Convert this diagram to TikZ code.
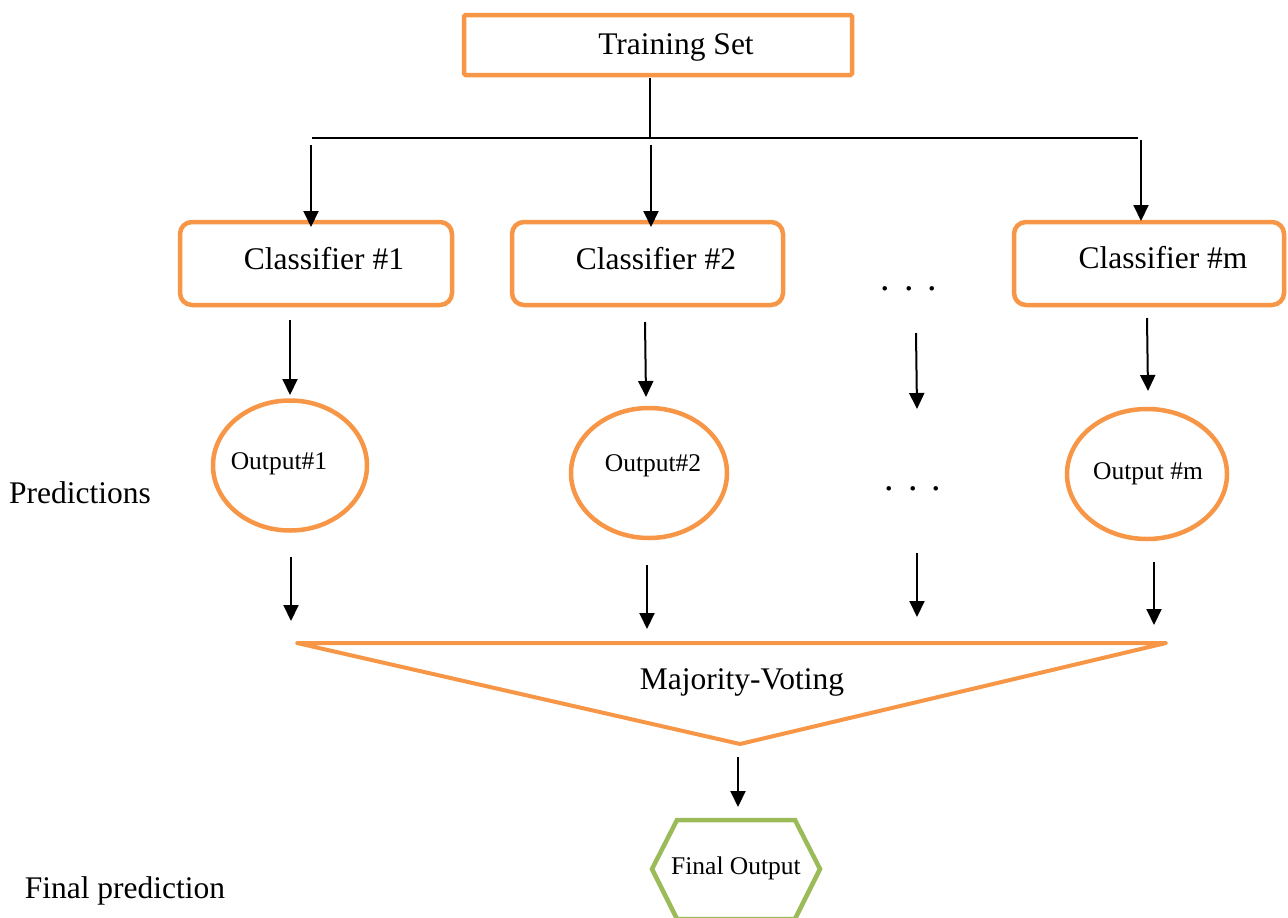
\documentclass[tikz,border=0pt]{standalone}
\usepackage{fontspec}
\setmainfont{Liberation Serif}
\usetikzlibrary{shapes.geometric,arrows.meta}
\definecolor{orng}{HTML}{F79646}
\definecolor{grn}{HTML}{9BBB59}
\tikzset{
  obox/.style={draw=orng,line width=4.5pt,minimum width=#1,minimum height=83pt,rounded corners=12pt,inner sep=0pt},
  tbox/.style={draw=orng,line width=4.5pt,minimum width=388pt,minimum height=60pt,rounded corners=1.5pt,inner sep=0pt},
  oell/.style={draw=orng,line width=4.5pt,ellipse,minimum width=#1,minimum height=130pt,inner sep=0pt},
  arr/.style={line width=2pt,-{Triangle[width=15pt,length=16pt]}},
  ln/.style={line width=1.6pt},
  big/.style={font=\fontsize{31.5}{36}\selectfont},
  mid/.style={font=\fontsize{25.5}{30}\selectfont},
  dots/.style={font=\fontsize{38}{40}\selectfont},
}
\newcommand{\mydots}{.\hspace{14pt}.\hspace{14pt}.}
\begin{document}
\begin{tikzpicture}[x=1pt,y=-1pt]
\useasboundingbox (0,0) rectangle (1288,918);
% training set
\node[tbox] (ts) at (658,45) {};
\node[big] (tst) at (676,47) {Training Set};
% branch lines
\coordinate (b0) at (650,78);
\coordinate (bj) at (650,138);
\coordinate (bl) at (312,138);
\coordinate (br) at (1138,138);
\draw[ln] (b0) -- (bj);
\draw[ln] (bl) -- (br);
% classifiers
\node[obox=272pt] (c1) at (316,263.5) {};
\node[big] (c1t) at (324,259) {Classifier \#1};
\node[obox=271pt] (c2) at (647.5,263.5) {};
\node[big] (c2t) at (656,259) {Classifier \#2};
\node[obox=270pt] (cm) at (1149,263.5) {};
\node[big] (cmt) at (1163,258) {Classifier \#m};
\node[dots] (d1) at (909,289) {\mydots};
% arrows to classifiers
\coordinate (a1s) at (311,145); \coordinate (a1e) at (311,227);
\coordinate (a2s) at (651,145); \coordinate (a2e) at (651,227);
\coordinate (a3s) at (1141,140); \coordinate (a3e) at (1141,221);
\draw[arr] (a1s) -- (a1e);
\draw[arr] (a2s) -- (a2e);
\draw[arr] (a3s) -- (a3e);
% arrows to outputs
\coordinate (o1s) at (290,320); \coordinate (o1e) at (290,395);
\coordinate (o2s) at (645,322); \coordinate (o2e) at (646,397);
\coordinate (ods) at (916,333); \coordinate (ode) at (917,409);
\coordinate (oms) at (1147,318); \coordinate (ome) at (1148,391);
\draw[arr] (o1s) -- (o1e);
\draw[arr] (o2s) -- (o2e);
\draw[arr] (ods) -- (ode);
\draw[arr] (oms) -- (ome);
% outputs
\node[oell=154pt] (e1) at (290,465.5) {};
\node[mid] (e1t) at (279,464) {Output\#1};
\node[oell=156pt] (e2) at (649,473) {};
\node[mid] (e2t) at (653,466) {Output\#2};
\node[oell=160pt] (em) at (1147,474) {};
\node[mid] (emt) at (1148,474) {Output \#m};
\node[dots] (d2) at (913,489) {\mydots};
\node[big] (pred) at (80,493) {Predictions};
% arrows to voting
\coordinate (v1s) at (291,557); \coordinate (v1e) at (291,621);
\coordinate (v2s) at (647,565); \coordinate (v2e) at (647,629);
\coordinate (vds) at (917,553); \coordinate (vde) at (917,617);
\coordinate (vms) at (1154,562); \coordinate (vme) at (1154,625);
\draw[arr] (v1s) -- (v1e);
\draw[arr] (v2s) -- (v2e);
\draw[arr] (vds) -- (vde);
\draw[arr] (vms) -- (vme);
% majority voting triangle
\coordinate (tl) at (297,643);
\coordinate (tr) at (1166,643);
\coordinate (tb) at (740,744);
\draw[draw=orng,line width=4pt,line join=round] (tl) -- (tr) -- (tb) -- cycle;
\node[big] (mv) at (742,682) {Majority-Voting};
% final
\coordinate (fs) at (738,757); \coordinate (fe) at (738,807);
\draw[arr] (fs) -- (fe);
\coordinate (h1) at (677,820); \coordinate (h2) at (795,820);
\coordinate (h3) at (820,869); \coordinate (h4) at (795,919);
\coordinate (h5) at (677,919); \coordinate (h6) at (652,869);
\begin{scope}
\clip (0,0) rectangle (1288,918);
\draw[draw=grn,line width=4.5pt,line join=miter] (h1) -- (h2) -- (h3) -- (h4) -- (h5) -- (h6) -- cycle;
\end{scope}
\node[mid] (fo) at (736,868) {Final Output};
\node[big] (fp) at (125,891) {Final prediction};
\end{tikzpicture}
\end{document}
